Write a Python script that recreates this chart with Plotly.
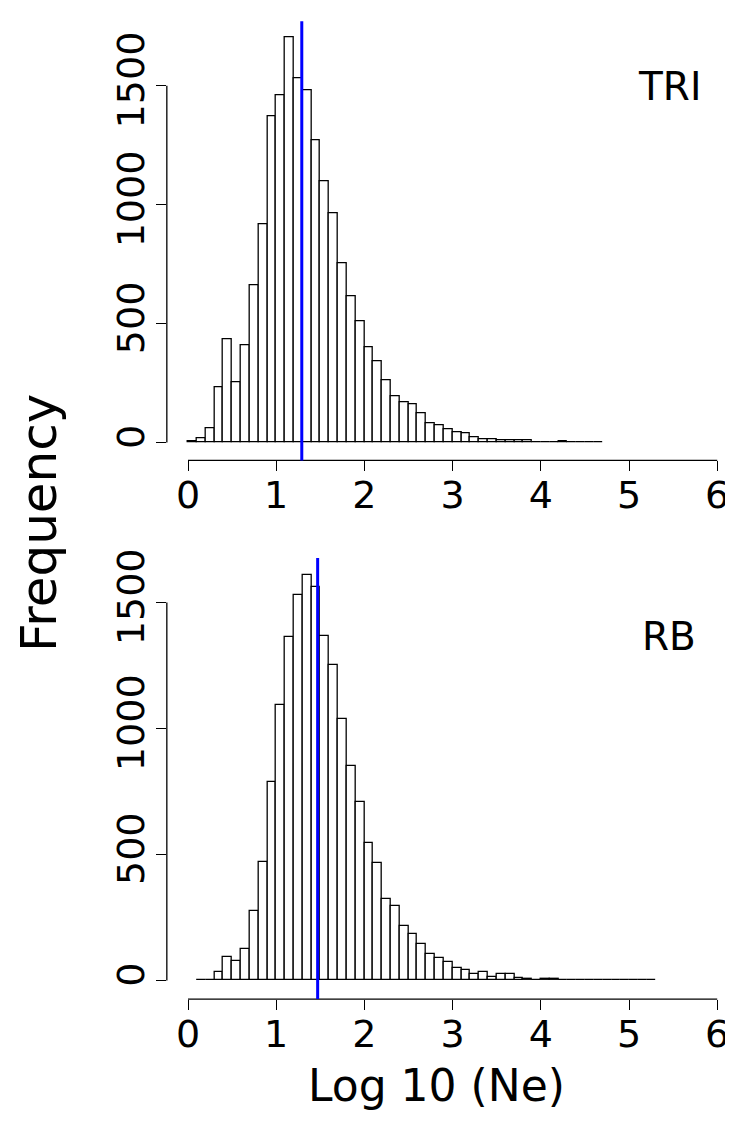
import plotly.graph_objects as go

# ---------------- data ----------------
bin_width = 0.1

tri_first_bin = 0.0
tri_counts = [5, 18, 60, 233, 435, 255, 411, 661, 918, 1370,
              1458, 1703, 1533, 1479, 1272, 1099, 963, 754, 615, 512,
              401, 342, 260, 193, 169, 160, 124, 81, 74, 57,
              45, 39, 21, 15, 12, 10, 10, 10, 8, 3,
              2, 2, 4, 2, 1, 1, 1]
tri_median = 1.29

rb_first_bin = 0.1
rb_counts = [2, 3, 33, 92, 76, 125, 276, 472, 787, 1093,
             1365, 1531, 1611, 1562, 1367, 1252, 1037, 850, 707, 547,
             465, 324, 297, 218, 185, 143, 104, 88, 74, 50,
             42, 26, 34, 15, 24, 24, 10, 4, 3, 4,
             6, 3, 2, 2, 1, 1, 1, 1, 1, 2,
             1, 1]
rb_median = 1.47

x_ticks = [0, 1, 2, 3, 4, 5, 6]
y_ticks = [0, 500, 1000, 1500]
panel_labels = ["TRI", "RB"]
x_title = "Log 10 (Ne)"
y_title = "Frequency"

tri_centers = [round(tri_first_bin + bin_width * (i + 0.5), 3) for i in range(len(tri_counts))]
rb_centers = [round(rb_first_bin + bin_width * (i + 0.5), 3) for i in range(len(rb_counts))]

# ---------------- figure ----------------
W, H = 733, 1122
FONT = "DejaVu Sans"
OFF = 8  # page body margin in the browser

def px(x):
    return (x - OFF) / W

def py(y):
    return 1 - (y - OFF) / H

fig = go.Figure()
bar_style = dict(color="white", line=dict(color="black", width=1.3))
fig.add_trace(go.Bar(x=tri_centers, y=tri_counts, width=bin_width, marker=bar_style,
                     xaxis="x", yaxis="y", showlegend=False))
fig.add_trace(go.Bar(x=rb_centers, y=rb_counts, width=bin_width, marker=bar_style,
                     xaxis="x2", yaxis="y2", showlegend=False))

# x: 0 at 188 px, 88.2 px per unit (reference pixels)
x_left = -0.24
x_right = x_left + (W + OFF - 1 - (188 + x_left * 88.2)) / 88.2
xdom = [px(188 + x_left * 88.2), px(188 + x_right * 88.2)]

common_x = dict(range=[x_left, x_right], domain=xdom, tickvals=x_ticks, ticks="outside", ticklen=10,
                tickwidth=1.3, tickcolor="black", showline=False, showgrid=False, zeroline=False,
                tickfont=dict(family=FONT, size=38, color="black"), ticklabelstandoff=-9)
common_y = dict(tickvals=y_ticks, ticks="outside", ticklen=10, tickwidth=1.3,
                tickcolor="black", showline=False, showgrid=False, zeroline=False, tickangle=-90,
                tickfont=dict(family=FONT, size=38, color="black"), ticklabelstandoff=-3)

fig.update_layout(
    width=W, height=H,
    margin=dict(l=0, r=0, t=0, b=0),
    paper_bgcolor="white", plot_bgcolor="white",
    bargap=0,
    xaxis={**common_x, "anchor": "y"},
    yaxis={**common_y, "domain": [py(455), py(12.3)], "range": [-75, 1771], "anchor": "x"},
    xaxis2={**common_x, "anchor": "y2"},
    yaxis2={**common_y, "domain": [py(998), py(553.3)], "range": [-74, 1677], "anchor": "x2"},
)

shapes = []
for xr, yr, med in [("x", "y", tri_median), ("x2", "y2", rb_median)]:
    # R-style axis lines spanning only the tick range
    shapes.append(dict(type="line", xref=f"{xr} domain", yref=yr, x0=0, x1=0,
                       y0=y_ticks[0], y1=y_ticks[-1], line=dict(color="black", width=1.3)))
    shapes.append(dict(type="line", xref=xr, yref=f"{yr} domain", x0=x_ticks[0], x1=x_ticks[-1],
                       y0=0, y1=0, line=dict(color="black", width=1.3)))
    # median line
    shapes.append(dict(type="line", xref=xr, yref=f"{yr} domain", x0=med, x1=med,
                       y0=0, y1=1, line=dict(color="#0000FF", width=3)))
fig.update_layout(shapes=shapes)

annotations = [
    dict(text=panel_labels[0], x=px(669), y=py(78), xref="paper", yref="paper",
         xanchor="center", yanchor="middle", showarrow=False,
         font=dict(family=FONT, size=39, color="black")),
    dict(text=panel_labels[1], x=px(669), y=py(633), xref="paper", yref="paper",
         xanchor="center", yanchor="middle", showarrow=False,
         font=dict(family=FONT, size=39, color="black")),
    dict(text=y_title, x=px(39), y=py(518), xref="paper", yref="paper", textangle=-90,
         xanchor="center", yanchor="middle", showarrow=False,
         font=dict(family=FONT, size=50, color="black")),
    dict(text=x_title, x=px(436), y=py(1085), xref="paper", yref="paper",
         xanchor="center", yanchor="middle", showarrow=False,
         font=dict(family=FONT, size=44, color="black")),
]
fig.update_layout(annotations=annotations)

fig.write_html("out.html")
